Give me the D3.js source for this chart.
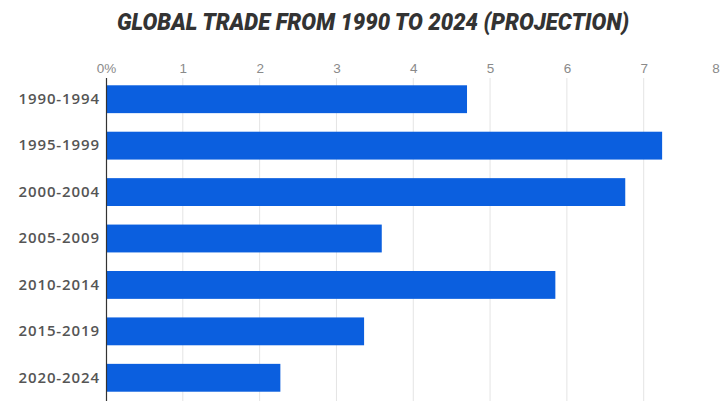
<!DOCTYPE html>
<html>
<head>
<meta charset="utf-8">
<script src="https://cdn.jsdelivr.net/npm/d3@7"></script>
<style>
  html, body { margin: 0; padding: 0; background: #fff; }
  svg { display: block; }
</style>
</head>
<body>
<svg id="chart" width="720" height="401"></svg>
<script>
// Average annual growth of world trade, by five-year period (%)
const periods = ["1990-1994", "1995-1999", "2000-2004", "2005-2009", "2010-2014", "2015-2019", "2020-2024"];
const growth = [4.70, 7.24, 6.76, 3.59, 5.85, 3.36, 2.27];
const tickValues = [0, 1, 2, 3, 4, 5, 6, 7, 8];
const tickLabels = ["0%", "1", "2", "3", "4", "5", "6", "7", "8"];
const title = "GLOBAL TRADE FROM 1990 TO 2024 (PROJECTION)";

const svg = d3.select("#chart");
const W = 720, H = 401;
const plotLeft = 106, plotRight = 720.5, plotTop = 78;

const x = d3.scaleLinear().domain([0, 8]).range([plotLeft, plotRight]);
const y = d3.scaleBand().domain(periods).range([76, H]).paddingInner(0.4).paddingOuter(0.2);

// Title
svg.append("text")
  .attr("x", 373).attr("y", 30)
  .attr("text-anchor", "middle")
  .attr("font-family", "Roboto, 'Liberation Sans', sans-serif")
  .attr("font-weight", 900)
  .attr("font-style", "italic")
  .attr("font-size", 23)
  .attr("fill", "#333")
  .attr("textLength", 512)
  .attr("lengthAdjust", "spacingAndGlyphs")
  .text(title);

// Vertical gridlines
svg.append("g")
  .selectAll("line")
  .data(tickValues.slice(1))
  .join("line")
  .attr("x1", d => x(d)).attr("x2", d => x(d))
  .attr("y1", plotTop).attr("y2", H)
  .attr("stroke", "#e4e4e4")
  .attr("stroke-width", 1);

// Top value axis
const xAxis = d3.axisTop(x)
  .tickValues(tickValues)
  .tickFormat((d, i) => tickLabels[i])
  .tickSize(0)
  .tickPadding(0);
const gx = svg.append("g").attr("transform", `translate(0,${plotTop - 5})`).call(xAxis);
gx.select(".domain").remove();
gx.selectAll("text")
  .attr("font-family", "'Liberation Sans', Arial, sans-serif")
  .attr("font-size", 13.5)
  .attr("fill", "#8a8a8a");
// last label sits at the window edge; pull it just inside
gx.selectAll(".tick").filter(d => d === 8).select("text").attr("dx", -5);

// Bars
svg.append("g")
  .selectAll("rect")
  .data(periods)
  .join("rect")
  .attr("x", x(0))
  .attr("y", d => y(d))
  .attr("width", (d, i) => x(growth[i]) - x(0))
  .attr("height", y.bandwidth())
  .attr("fill", "#0b5fdf");

// Category axis
const yAxis = d3.axisLeft(y).tickSize(0).tickPadding(6);
const gy = svg.append("g").attr("transform", `translate(${plotLeft},0)`).call(yAxis);
gy.select(".domain").remove();
gy.selectAll("text")
  .attr("font-family", "'Open Sans', 'Liberation Sans', sans-serif")
  .attr("font-size", 15)
  .attr("font-weight", 600)
  .attr("letter-spacing", 0.9)
  .attr("fill", "#555");

// Baseline
svg.append("line")
  .attr("x1", plotLeft + 0.5).attr("x2", plotLeft + 0.5)
  .attr("y1", plotTop).attr("y2", H)
  .attr("stroke", "#333")
  .attr("stroke-width", 1.2);
</script>
</body>
</html>
